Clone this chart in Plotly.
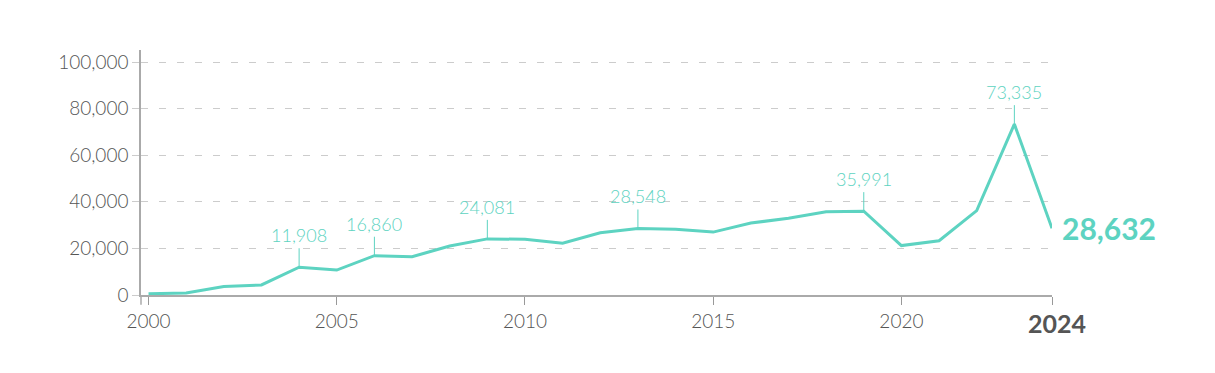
import plotly.graph_objects as go

years = list(range(2000, 2025))
values = [500, 900, 3600, 4300, 11908, 10700, 16860, 16400, 21000, 24081,
          23900, 22200, 26700, 28548, 28200, 27000, 30900, 32900, 35700, 35991,
          21200, 23300, 36200, 73335, 28632]
label_years = [2004, 2006, 2009, 2013, 2019, 2023]
x_tickvals = [2000, 2005, 2010, 2015, 2020, 2024]
x_ticktext = ["2000", "2005", "2010", "2015", "2020", ""]
y_tickvals = [0, 20000, 40000, 60000, 80000, 100000]

TEAL = "#5dd3c1"
GRAY = "#555555"
FONT = "Lato"

fig = go.Figure()
fig.add_trace(go.Scatter(x=years, y=values, mode="lines",
                         line=dict(color=TEAL, width=3), hoverinfo="skip"))

for yr in label_years:
    v = values[years.index(yr)]
    fig.add_annotation(x=yr, y=v, text=f"{v:,}", showarrow=True, arrowhead=0,
                       arrowwidth=1, arrowcolor=TEAL, ax=0, ay=-19,
                       yanchor="bottom",
                       font=dict(family=FONT, size=18, color=TEAL, weight=300))

last = values[-1]
fig.add_annotation(x=years[-1], y=last, text=f"<b>{last:,}</b>", showarrow=False,
                   xanchor="left", yanchor="middle", xshift=8,
                   font=dict(family=FONT, size=30, color=TEAL))
fig.add_annotation(x=years[-1], y=0, text="<b>2024</b>", showarrow=False,
                   xanchor="center", yanchor="top", yshift=-11, xshift=5,
                   font=dict(family=FONT, size=25, color=GRAY))

# y axis line extension below x axis
fig.add_shape(type="line", xref="paper", yref="paper", x0=0, x1=0, y0=-0.04, y1=0,
              line=dict(color="#aaaaaa", width=1.5))

fig.update_layout(
    width=1215, height=373,
    margin=dict(l=133, r=171, t=42, b=86),
    paper_bgcolor="white", plot_bgcolor="white",
    showlegend=False,
    font=dict(family=FONT, color=GRAY),
    xaxis=dict(range=[1999.8, 2024], tickvals=x_tickvals, ticktext=x_ticktext,
               showgrid=False, zeroline=False, showline=True, linecolor="#aaaaaa",
               linewidth=2, ticks="outside", ticklen=8, tickcolor="#999999",
               tickfont=dict(family=FONT, size=19, color=GRAY, weight=300)),
    yaxis=dict(range=[0, 105150], tickvals=y_tickvals, tickformat=",",
               showgrid=True, gridcolor="#cccccc", griddash="7px,11px", gridwidth=1,
               zeroline=False, showline=True, linecolor="#aaaaaa", linewidth=1.5,
               ticks="outside", ticklen=7, tickcolor="#cccccc",
               tickfont=dict(family=FONT, size=19, color=GRAY, weight=300)),
)

fig.write_html("out.html")
